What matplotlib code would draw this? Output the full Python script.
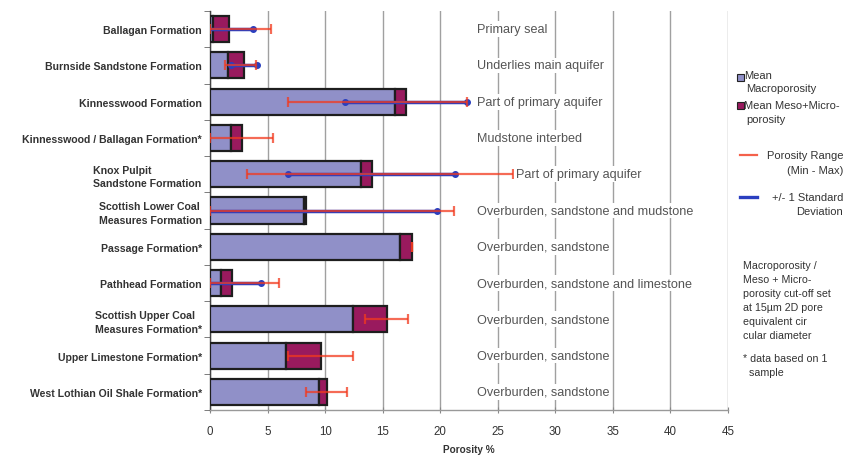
import numpy as np
import matplotlib
matplotlib.use("Agg")
import matplotlib.pyplot as plt
from matplotlib.patches import Rectangle
from matplotlib.lines import Line2D

plt.rcParams['font.family'] = ['Liberation Sans', 'DejaVu Sans']

formations = [
    "Ballagan Formation",
    "Burnside Sandstone Formation",
    "Kinnesswood Formation",
    "Kinnesswood / Ballagan Formation*",
    "Knox Pulpit\nSandstone Formation",
    "Scottish Lower Coal\nMeasures Formation",
    "Passage Formation*",
    "Pathhead Formation",
    "Scottish Upper Coal\nMeasures Formation*",
    "Upper Limestone Formation*",
    "West Lothian Oil Shale Formation*",
]
macro_mean = [0.3, 1.55, 16.05, 1.8, 13.1, 8.2, 16.5, 0.95, 12.45, 6.6, 9.5]
meso_micro_mean = [1.35, 1.4, 1.0, 1.0, 0.95, 0.15, 1.05, 1.0, 2.9, 3.05, 0.7]
range_min = [0.0, 1.3, 6.75, 0.0, 3.2, 0.0, 17.55, 0.0, 13.45, 6.8, 8.35]
range_max = [5.3, 4.0, 22.35, 5.45, 26.3, 21.2, 17.55, 6.0, 17.2, 12.45, 11.9]
std_dev = [2.05, 1.1, 5.3, np.nan, 7.25, 11.4, np.nan, 2.45, np.nan, np.nan, np.nan]
notes = [
    "Primary seal",
    "Underlies main aquifer",
    "Part of primary aquifer",
    "Mudstone interbed",
    "Part of primary aquifer",
    "Overburden, sandstone and mudstone",
    "Overburden, sandstone",
    "Overburden, sandstone and limestone",
    "Overburden, sandstone",
    "Overburden, sandstone",
    "Overburden, sandstone",
]
note_x = [23.2, 23.2, 23.2, 23.2, 26.6, 23.2, 23.2, 23.2, 23.2, 23.2, 23.2]
x_ticks = [0, 5, 10, 15, 20, 25, 30, 35, 40, 45]

MACRO_C = "#9090c8"
MESO_C = "#991a5e"
RANGE_C = "#f23a1e"
SD_C = "#2a3fc0"
TXT = "#333333"

W, H = 846, 456
fig = plt.figure(figsize=(W / 100, H / 100), dpi=100)
ax = fig.add_axes([210 / W, 1 - 411 / H, 518 / W, 399 / H])

y = np.arange(len(formations))
macro = np.array(macro_mean)
meso = np.array(meso_micro_mean)
total = macro + meso

ax.barh(y, macro, height=0.72, color=MACRO_C, edgecolor="#1e1e1e", linewidth=1.6, zorder=3)
ax.barh(y, meso, left=macro, height=0.72, color=MESO_C, edgecolor="#1e1e1e", linewidth=1.6, zorder=3)

# +/- 1 standard deviation around the mean total porosity
sd = np.array(std_dev)
has_sd = ~np.isnan(sd)
ax.errorbar(total[has_sd], y[has_sd], xerr=sd[has_sd], fmt="none", ecolor=SD_C,
            elinewidth=2.5, capsize=0, zorder=4)
for yi, lo, hi in zip(y[has_sd], total[has_sd] - sd[has_sd], total[has_sd] + sd[has_sd]):
    ax.plot([lo, hi], [yi, yi], linestyle="none", marker="o", markersize=4,
            color=SD_C, zorder=4)

# porosity range (min - max)
rmin = np.array(range_min)
rmax = np.array(range_max)
mid = (rmin + rmax) / 2
ax.errorbar(mid, y, xerr=(rmax - rmin) / 2, fmt="none", ecolor=RANGE_C, alpha=0.75,
            elinewidth=1.6, capsize=3.5, capthick=1.6, zorder=5)

for yi, xi, txt in zip(y, note_x, notes):
    ax.text(xi, yi, txt, ha="left", va="center", fontsize=9.1, color="#555555", zorder=6,
            bbox=dict(boxstyle="square,pad=0.15", facecolor="white", edgecolor="none"))

ax.set_xlim(0, 45)
ax.set_ylim(len(formations) - 0.5, -0.5)
ax.set_xticks(x_ticks)
ax.set_xticklabels([str(t) for t in x_ticks], fontsize=8.3, color=TXT)
ax.set_xlabel("Porosity %", fontsize=7.2, fontweight="bold", color=TXT, labelpad=5)
ax.set_yticks(y)
ax.set_yticklabels(formations, fontsize=7.6, fontweight="bold", color=TXT,
                   linespacing=1.4, multialignment="left")
ax.set_yticks(np.arange(-0.5, len(formations)), minor=True)
ax.tick_params(axis="y", which="major", length=0, pad=6)
ax.tick_params(axis="y", which="minor", length=4, color="#666666", direction="out")
ax.tick_params(axis="x", length=5, color="#888888", direction="inout", pad=8)

ax.grid(axis="x", color="#a0a0a0", linewidth=1.0, zorder=0)
ax.set_axisbelow(True)
for s in ["top", "right"]:
    ax.spines[s].set_visible(False)
ax.spines["left"].set_color("#444444")
ax.spines["left"].set_linewidth(1.0)
ax.spines["bottom"].set_color("#999999")
ax.spines["bottom"].set_linewidth(1.0)


def fx(px):
    return px / W


def fy(py):
    return 1 - py / H


# legend drawn in figure coordinates on the right
for cy, col in [(78, MACRO_C), (106, MESO_C)]:
    fig.add_artist(Rectangle((fx(736.5), fy(cy + 3.5)), 7 / W, 7 / H, transform=fig.transFigure,
                             facecolor=col, edgecolor="#222222", linewidth=0.8))
leg_kw = dict(fontsize=8.0, color=TXT, va="center")
fig.text(fx(744), fy(76), "Mean", ha="left", **leg_kw)
fig.text(fx(746), fy(89), "Macroporosity", ha="left", **leg_kw)
fig.text(fx(744), fy(106), "Mean Meso+Micro-", ha="left", **leg_kw)
fig.text(fx(746), fy(120), "porosity", ha="left", **leg_kw)

fig.add_artist(Line2D([fx(740), fx(757)], [fy(156), fy(156)], transform=fig.transFigure,
                      color=RANGE_C, alpha=0.8, linewidth=1.6))
fig.text(fx(843), fy(156), "Porosity Range", ha="right", **leg_kw)
fig.text(fx(843), fy(171), "(Min - Max)", ha="right", **leg_kw)
fig.add_artist(Line2D([fx(740), fx(757)], [fy(198), fy(198)], transform=fig.transFigure,
                      color=SD_C, linewidth=2.4))
fig.text(fx(843), fy(198), "+/- 1 Standard", ha="right", **leg_kw)
fig.text(fx(843), fy(212), "Deviation", ha="right", **leg_kw)

note_kw = dict(fontsize=7.7, color=TXT, va="top", ha="left", linespacing=1.5)
fig.text(fx(743), fy(261), "Macroporosity /\nMeso + Micro-\nporosity cut-off set\nat 15\u00b5m 2D pore\n"
         "equivalent cir\ncular diameter", **note_kw)
fig.text(fx(743), fy(354), "* data based on 1\n  sample", **note_kw)

fig.savefig("out.png", dpi=100, facecolor="white")
